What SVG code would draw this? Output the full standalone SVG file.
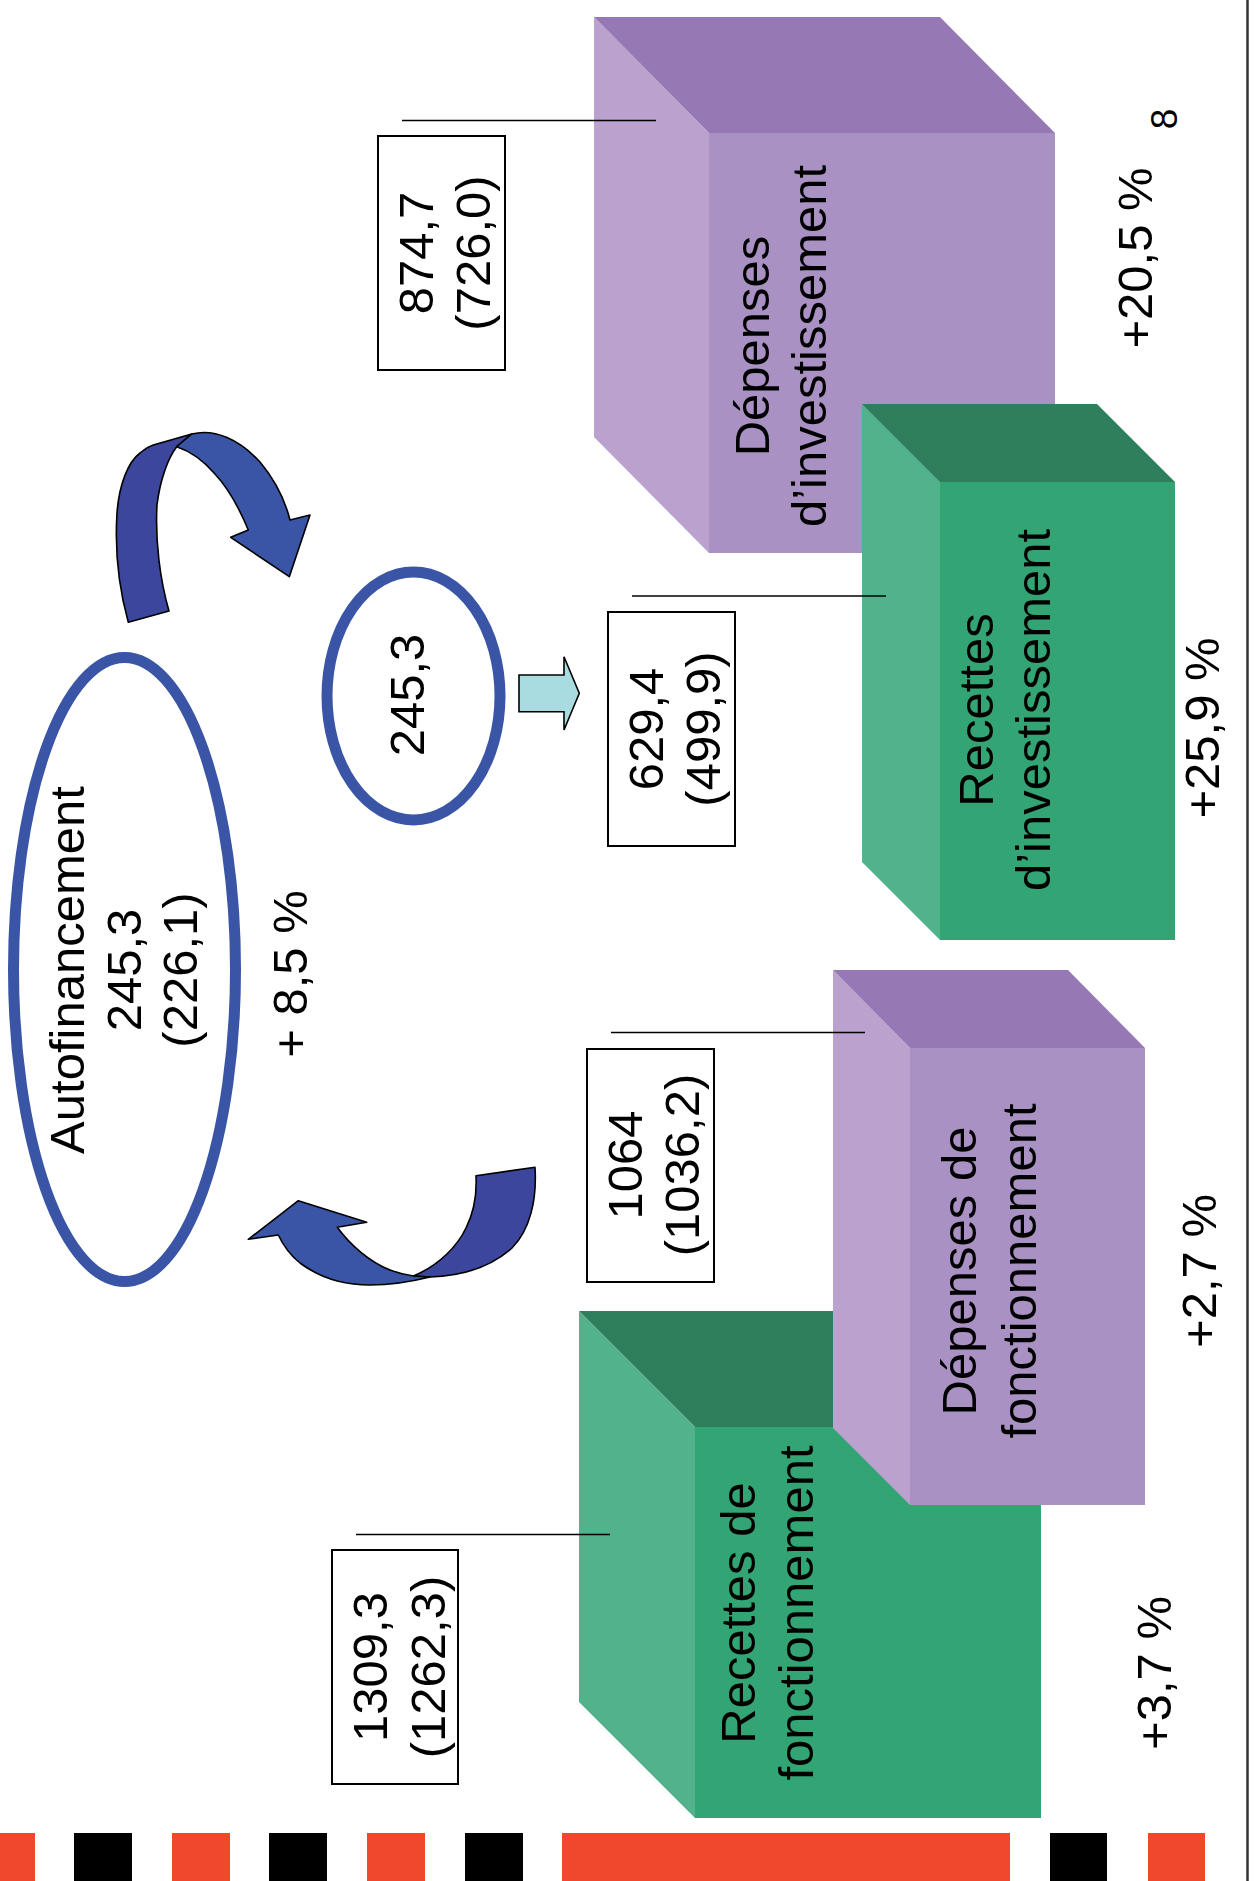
<svg xmlns="http://www.w3.org/2000/svg" width="1259" height="1881" viewBox="0 0 1259 1881">
<style>
text{font-family:"Liberation Sans",Arial,sans-serif;font-size:49px;fill:#000;text-anchor:middle}
.pl{fill:#BAA1CE}.pf{fill:#AA91C3}.pt{fill:#9679B4}
.gl{fill:#52B28C}.gf{fill:#33A474}.gt{fill:#2F7F5D}
.box{fill:#fff;stroke:#000;stroke-width:2}
.ln{stroke:#000;stroke-width:1.6;fill:none}
.ring{fill:none;stroke:#3A55A5;stroke-width:11}
.ad{fill:#3C469D;stroke:#000;stroke-width:1.6;stroke-linejoin:round}
.al{fill:#3A55A5;stroke:#000;stroke-width:1.6;stroke-linejoin:round}
.red{fill:#EF482C}.blk{fill:#000}
</style>
<rect width="1259" height="1881" fill="#fff"/>

<g id="cube-depenses-investissement">
<polygon class="pl" points="594,17 709,133 709,553 594,437"/>
<polygon class="pt" points="594,17 940,17 1055,133 709,133"/>
<rect class="pf" x="709" y="133" width="346" height="420"/>
<text transform="translate(0,346) rotate(-90)"><tspan x="0" y="769">Dépenses</tspan><tspan x="0" y="826">d’investissement</tspan></text>
</g>

<g id="cube-recettes-investissement">
<polygon class="gl" points="862,404 940,482 940,940 862,862"/>
<polygon class="gt" points="862,404 1097,404 1175,482 940,482"/>
<rect class="gf" x="940" y="482" width="235" height="458"/>
<text transform="translate(0,710) rotate(-90)"><tspan x="0" y="993">Recettes</tspan><tspan x="0" y="1050">d’investissement</tspan></text>
</g>

<g id="cube-recettes-fonctionnement">
<polygon class="gl" points="579,1311 695,1427 695,1818 579,1702"/>
<polygon class="gt" points="579,1311 926,1311 1041,1427 695,1427"/>
<rect class="gf" x="695" y="1427" width="346" height="391"/>
<text transform="translate(0,1613) rotate(-90)"><tspan x="0" y="755">Recettes de</tspan><tspan x="0" y="813">fonctionnement</tspan></text>
</g>

<g id="cube-depenses-fonctionnement">
<polygon class="pl" points="833,970 910,1048 910,1505 833,1428"/>
<polygon class="pt" points="833,970 1068,970 1145,1048 910,1048"/>
<rect class="pf" x="910" y="1048" width="235" height="457"/>
<text transform="translate(0,1271) rotate(-90)"><tspan x="0" y="976">Dépenses de</tspan><tspan x="0" y="1036">fonctionnement</tspan></text>
</g>

<g id="box-874">
<rect class="box" x="378" y="136" width="127" height="234"/>
<text transform="translate(0,253) rotate(-90)"><tspan x="0" y="433">874,7</tspan><tspan x="0" y="490">(726,0)</tspan></text>
</g>

<g id="box-629">
<rect class="box" x="608" y="612" width="127" height="234"/>
<text transform="translate(0,729) rotate(-90)"><tspan x="0" y="663">629,4</tspan><tspan x="0" y="720">(499,9)</tspan></text>
</g>

<g id="box-1064">
<rect class="box" x="587" y="1049" width="127" height="233"/>
<text transform="translate(0,1165) rotate(-90)"><tspan x="0" y="642">1064</tspan><tspan x="0" y="699">(1036,2)</tspan></text>
</g>

<g id="box-1309">
<rect class="box" x="332" y="1550" width="126" height="234"/>
<text transform="translate(0,1667) rotate(-90)"><tspan x="0" y="387">1309,3</tspan><tspan x="0" y="445">(1262,3)</tspan></text>
</g>

<g id="autofinancement">
<ellipse class="ring" cx="124.5" cy="969.5" rx="111" ry="312"/>
<text transform="translate(0,970) rotate(-90)"><tspan x="0" y="84">Autofinancement</tspan><tspan x="0" y="141">245,3</tspan><tspan x="0" y="197">(226,1)</tspan></text>
</g>

<g id="cercle-245">
<ellipse class="ring" cx="413.5" cy="696" rx="86.5" ry="124"/>
<text transform="translate(0,695) rotate(-90)"><tspan x="0" y="424">245,3</tspan></text>
</g>

<g id="pourcentages">
<text transform="translate(0,974) rotate(-90)"><tspan x="0" y="307">+ 8,5 %</tspan></text>
<text transform="translate(0,258) rotate(-90)"><tspan x="0" y="1152">+20,5 %</tspan></text>
<text transform="translate(0,728) rotate(-90)"><tspan x="0" y="1219">+25,9 %</tspan></text>
<text transform="translate(0,1271) rotate(-90)"><tspan x="0" y="1216">+2,7 %</tspan></text>
<text transform="translate(0,1673) rotate(-90)"><tspan x="0" y="1171">+3,7 %</tspan></text>
<text transform="translate(0,119) rotate(-90)" style="font-size:37px"><tspan x="0" y="1177">8</tspan></text>
</g>

<g id="connectors">
<line class="ln" x1="402" y1="120.5" x2="656" y2="120.5"/>
<line class="ln" x1="632" y1="596" x2="886" y2="596"/>
<line class="ln" x1="611" y1="1032.5" x2="865" y2="1032.5"/>
<line class="ln" x1="356" y1="1534.5" x2="610" y2="1534.5"/>
<path class="ad" d="M128.3,622.3 C118,585 115,545 117,513 C119,485 128,462 140,453 C145,449 150,446 153.3,445 L191.7,434 L176.7,446.7 C168,458 160,480 157,505 C155,540 160,580 169,611 Z"/>
<path class="al" d="M176.7,446.7 L191.7,434 C215,428 240,440 260,462 C275,480 285,500 290,520 L310,515 L289.3,576.7 L230.7,537.3 L248.3,530 C240,510 228,488 215,474 C203,460 190,451 176.7,446.7 Z"/>
<path class="ad" d="M476,1175.7 L535,1167.3 C537,1200 530,1230 512,1248 C490,1268 460,1276 430,1277 L413.3,1276 C440,1265 458,1245 466,1228 C474,1212 477,1195 476,1175.7 Z"/>
<path class="al" d="M413.3,1276 L430,1277 C410,1282 390,1285 370,1285 C345,1285 320,1278 300,1263 C290,1255 283,1245 278.3,1235 L248.3,1239.3 L298.3,1200.7 L366.7,1222.3 L337.3,1227.3 C350,1245 370,1262 390,1270 C398,1273 406,1275 413.3,1276 Z"/>
<path d="M519,675 L564,675 L564,656.7 L579.3,693.3 L564,730 L564,711.7 L519,711.7 Z" fill="#A9DCE0" stroke="#000" stroke-width="1.6" stroke-linejoin="miter"/>
</g>

<g id="decor">
<line x1="1247.5" y1="0" x2="1247.5" y2="1881" stroke="#333" stroke-width="2.5"/>
<rect class="red" x="0" y="1833" width="35" height="48"/>
<rect class="blk" x="74" y="1833" width="58" height="48"/>
<rect class="red" x="172" y="1833" width="58" height="48"/>
<rect class="blk" x="269" y="1833" width="58" height="48"/>
<rect class="red" x="367" y="1833" width="58" height="48"/>
<rect class="blk" x="465" y="1833" width="58" height="48"/>
<rect class="red" x="562" y="1833" width="448" height="48"/>
<rect class="blk" x="1050" y="1833" width="57" height="48"/>
<rect class="red" x="1148" y="1833" width="57" height="48"/>
</g>
</svg>
